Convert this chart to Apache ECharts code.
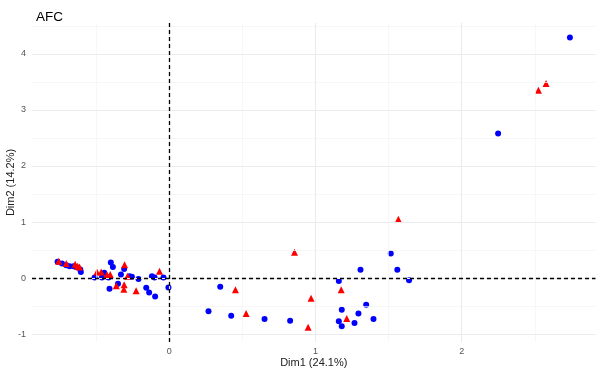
<!DOCTYPE html>
<html>
<head>
<meta charset="utf-8">
<script src="https://cdn.jsdelivr.net/npm/echarts@6/dist/echarts.min.js"></script>
<style>html,body{margin:0;padding:0;background:#fff}#c{width:600px;height:375px}</style>
</head>
<body>
<div id="c"></div>
<script>
// Row points (blue circles)
const rowX = [2.74, 2.249, 1.515, 1.56, 1.308, 1.64, 1.16, 1.18, 1.347, 1.294, 1.397, 1.16, 1.267, 1.18, 0.827, 0.652, 0.424, 0.269, 0.349,
  -0.763, -0.733, -0.704, -0.681, -0.654, -0.636, -0.608, -0.604,
  -0.51, -0.46, -0.444, -0.415, -0.399, -0.385, -0.308, -0.33, -0.271, -0.255, -0.21, -0.118, -0.10, -0.039, -0.005, -0.408, -0.35, -0.157, -0.137, -0.096];
const rowY = [4.29, 2.58, 0.44, 0.15, 0.15, -0.04, -0.054, -0.566, -0.476, -0.63, -0.73, -0.77, -0.80, -0.86, -0.76, -0.73, -0.67, -0.59, -0.155,
  0.29, 0.26, 0.23, 0.21, 0.21, 0.20, 0.155, 0.107,
  0.01, 0.01, 0.095, 0.01, 0.28, 0.20, 0.16, 0.065, 0.035, 0.025, -0.018, 0.035, 0.012, 0.012, -0.166, -0.19, -0.10, -0.173, -0.255, -0.33];
// Column points (red triangles)
const colX = [2.577, 2.525, 1.567, 0.857, 1.176, 0.97, 1.214, 0.95, 0.453, 0.526,
  -0.755, -0.704, -0.643, -0.627, -0.613, -0.494, -0.465, -0.426, -0.403, -0.305, -0.285, -0.066, -0.362, -0.308, -0.31, -0.226];
const colY = [3.47, 3.35, 1.05, 0.46, -0.21, -0.36, -0.72, -0.875, -0.21, -0.63,
  0.30, 0.26, 0.245, 0.21, 0.20, 0.11, 0.11, 0.06, 0.065, 0.24, 0.035, 0.12, -0.137, -0.12, -0.2, -0.226];
// Axes
const xTicks = [0, 1, 2];
const yTicks = [-1, 0, 1, 2, 3, 4];
const xMinor = [-0.5, 0.5, 1.5, 2.5];
const yMinor = [-0.5, 0.5, 1.5, 2.5, 3.5, 4.5];
const xRange = [-0.938, 2.915];
const yRange = [-1.14, 4.55];
const refLines = [0];

const rowData = rowX.map((x, i) => [x, rowY[i]]);
const colData = colX.map((x, i) => [x, colY[i]]);

const font = 'Liberation Sans, Arial, sans-serif';
const majorStyle = {color: '#ebebeb', width: 1.1, type: 'solid'};
const minorStyle = {color: '#f3f3f3', width: 0.7, type: 'solid'};

const gridLines = [].concat(
  xMinor.map(v => ({xAxis: v, lineStyle: minorStyle})),
  yMinor.map(v => ({yAxis: v, lineStyle: minorStyle})),
  xTicks.map(v => ({xAxis: v, lineStyle: majorStyle})),
  yTicks.map(v => ({yAxis: v, lineStyle: majorStyle}))
);
const dashStyle = {color: '#000', width: 1.3, type: [4, 3]};
const zeroLines = [].concat(
  refLines.map(v => ({xAxis: v, lineStyle: dashStyle})),
  refLines.map(v => ({yAxis: v, lineStyle: dashStyle}))
);

const chart = echarts.init(document.getElementById('c'), null, {renderer: 'canvas'});
chart.setOption({
  animation: false,
  backgroundColor: '#fff',
  textStyle: {fontFamily: font},
  title: {text: 'AFC', left: 31, top: 5, textStyle: {fontSize: 13.5, fontWeight: 'normal', color: '#000', fontFamily: font}},
  grid: {left: 32, right: 4.5, top: 23, bottom: 33, containLabel: false, outerBoundsMode: 'none'},
  xAxis: {
    type: 'value', min: xRange[0], max: xRange[1],
    splitLine: {show: false}, axisLine: {show: false},
    axisTick: {show: true, customValues: xTicks, length: 3, lineStyle: {color: '#444', width: 1}},
    axisLabel: {customValues: xTicks, fontSize: 9, color: '#555', margin: 5, fontFamily: font},
    name: 'Dim1 (24.1%)', nameLocation: 'middle', nameGap: 15, nameMoveOverlap: false,
    nameTextStyle: {fontSize: 11, color: '#222', fontFamily: font}
  },
  yAxis: {
    type: 'value', min: yRange[0], max: yRange[1],
    splitLine: {show: false}, axisLine: {show: false},
    axisTick: {show: true, customValues: yTicks, length: 3, lineStyle: {color: '#444', width: 1}},
    axisLabel: {customValues: yTicks, fontSize: 9, color: '#555', margin: 6, fontFamily: font},
    name: 'Dim2 (14.2%)', nameLocation: 'middle', nameGap: 16, nameMoveOverlap: false,
    nameTextStyle: {fontSize: 11, color: '#222', fontFamily: font}
  },
  series: [
    {type: 'scatter', data: [], silent: true, z: 1,
     markLine: {silent: true, symbol: 'none', label: {show: false}, data: gridLines, animation: false}},
    {type: 'scatter', data: [], silent: true, z: 2,
     markLine: {silent: true, symbol: 'none', label: {show: false}, data: zeroLines, animation: false}},
    {type: 'scatter', name: 'rows', data: rowData, symbol: 'circle', symbolSize: 6, z: 3,
     itemStyle: {color: '#0000ff', opacity: 1}},
    {type: 'scatter', name: 'cols', data: colData, symbol: 'triangle', symbolSize: 7, z: 4,
     itemStyle: {color: '#ff0000', opacity: 1}}
  ]
});
</script>
</body>
</html>
